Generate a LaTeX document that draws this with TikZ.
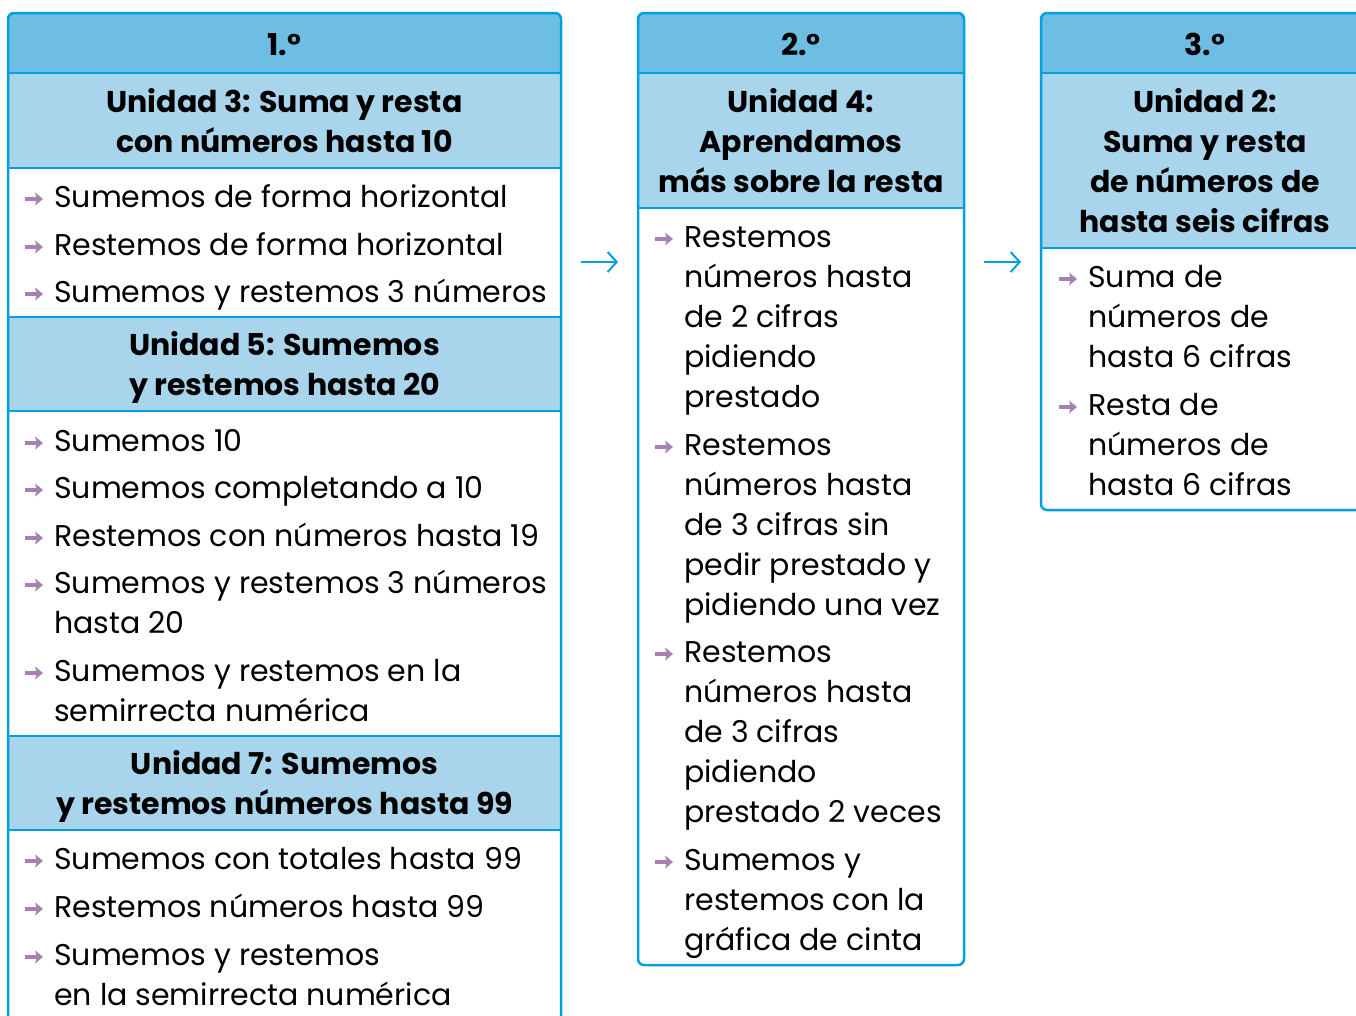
\documentclass[tikz,border=0pt]{standalone}
\usepackage{fontspec}
\setmainfont{Poppins}
\usetikzlibrary{arrows.meta}
\definecolor{bline}{RGB}{0,160,223}
\definecolor{hdark}{RGB}{110,190,228}
\definecolor{hlight}{RGB}{168,212,236}
\definecolor{bulc}{RGB}{166,128,178}
\tikzset{
 itemtxt/.style={anchor=base west, inner sep=0pt, align=left, font=\fontsize{30}{40}\selectfont},
 headtxt/.style={anchor=base, inner sep=0pt, align=center, font=\bfseries\fontsize{30}{40}\selectfont},
 bul/.style={draw=bulc, line width=4pt, -{Stealth[length=8pt,width=13pt,inset=2pt]}},
 frame/.style={draw=bline, line width=2.5pt, rounded corners=6pt},
 divider/.style={draw=bline, line width=2.5pt},
 link/.style={draw=bline, line width=2pt, -{Straight Barb[length=9pt,width=20pt]}}
}
% name, x, first baseline, number of lines, text
\newcommand\itm[5]{\draw[bul] (#2-29,#3-8) -- (#2-11,#3-8); \node[itemtxt] (#1) at (#2,#3+40*#4-40) {#5};}
\newcommand\hdr[5]{\node[headtxt] (#1) at (#2,#3+40*#4-40) {#5};}
\begin{document}
\begin{tikzpicture}[x=1pt,y=-1pt]
\useasboundingbox (0,0) rectangle (1356,1015);
% ---------- box 1
\begin{scope}
\clip[rounded corners=6pt] (8,13) rectangle (561,1040);
\fill[hdark] (8,13) rectangle (561,73);
\fill[hlight] (8,73) rectangle (561,168);
\fill[hlight] (8,317) rectangle (561,411);
\fill[hlight] (8,736) rectangle (561,830);
\end{scope}
\foreach \yy in {73,168,317,411,736,830} \draw[divider] (8,\yy) -- (561,\yy);
\draw[frame] (8,13) rectangle (561,1040);
\hdr{g1}{284.5}{55}{1}{1.°}
\hdr{u3}{284.5}{112}{2}{Unidad 3: Suma y resta\\con números hasta 10}
\itm{i11}{54}{207}{1}{Sumemos de forma horizontal}
\itm{i12}{54}{255}{1}{Restemos de forma horizontal}
\itm{i13}{54}{302}{1}{Sumemos y restemos 3 números}
\hdr{u5}{284.5}{355}{2}{Unidad 5: Sumemos\\y restemos hasta 20}
\itm{i21}{54}{451}{1}{Sumemos 10}
\itm{i22}{54}{498}{1}{Sumemos completando a 10}
\itm{i23}{54}{546}{1}{Restemos con números hasta 19}
\itm{i24}{54}{593}{2}{Sumemos y restemos 3 números\\hasta 20}
\itm{i25}{54}{681}{2}{Sumemos y restemos en la\\semirrecta numérica}
\hdr{u7}{284.5}{774}{2}{Unidad 7: Sumemos\\y restemos números hasta 99}
\itm{i31}{54}{869}{1}{Sumemos con totales hasta 99}
\itm{i32}{54}{917}{1}{Restemos números hasta 99}
\itm{i33}{54}{965}{2}{Sumemos y restemos\\en la semirrecta numérica}
% ---------- box 2
\begin{scope}
\clip[rounded corners=6pt] (638,13) rectangle (964,965);
\fill[hdark] (638,13) rectangle (964,73);
\fill[hlight] (638,73) rectangle (964,208);
\end{scope}
\foreach \yy in {73,208} \draw[divider] (638,\yy) -- (964,\yy);
\draw[frame] (638,13) rectangle (964,965);
\hdr{g2}{801}{55}{1}{2.°}
\hdr{u4}{801}{112}{3}{Unidad 4:\\Aprendamos\\más sobre la resta}
\itm{j1}{684}{247}{5}{Restemos\\números hasta\\de 2 cifras\\pidiendo\\prestado}
\itm{j2}{684}{455}{5}{Restemos\\números hasta\\de 3 cifras sin\\pedir prestado y\\pidiendo una vez}
\itm{j3}{684}{662}{5}{Restemos\\números hasta\\de 3 cifras\\pidiendo\\prestado 2 veces}
\itm{j4}{684}{870}{3}{Sumemos y\\restemos con la\\gráfica de cinta}
% ---------- box 3
\begin{scope}
\clip[rounded corners=6pt] (1041,13) rectangle (1369,510);
\fill[hdark] (1041,13) rectangle (1369,73);
\fill[hlight] (1041,73) rectangle (1369,248);
\end{scope}
\foreach \yy in {73,248} \draw[divider] (1041,\yy) -- (1369,\yy);
\draw[frame] (1041,13) rectangle (1369,510);
\hdr{g3}{1205}{55}{1}{3.°}
\hdr{u2}{1205}{112}{4}{Unidad 2:\\Suma y resta\\de números de\\hasta seis cifras}
\itm{k1}{1088}{287}{3}{Suma de\\números de\\hasta 6 cifras}
\itm{k2}{1088}{415}{3}{Resta de\\números de\\hasta 6 cifras}
% ---------- links
\coordinate (l1s) at (581,262);
\coordinate (l1e) at (618,262);
\coordinate (l2s) at (984,262);
\coordinate (l2e) at (1021,262);
\draw[link] (l1s) -- (l1e);
\draw[link] (l2s) -- (l2e);
\end{tikzpicture}
\end{document}
